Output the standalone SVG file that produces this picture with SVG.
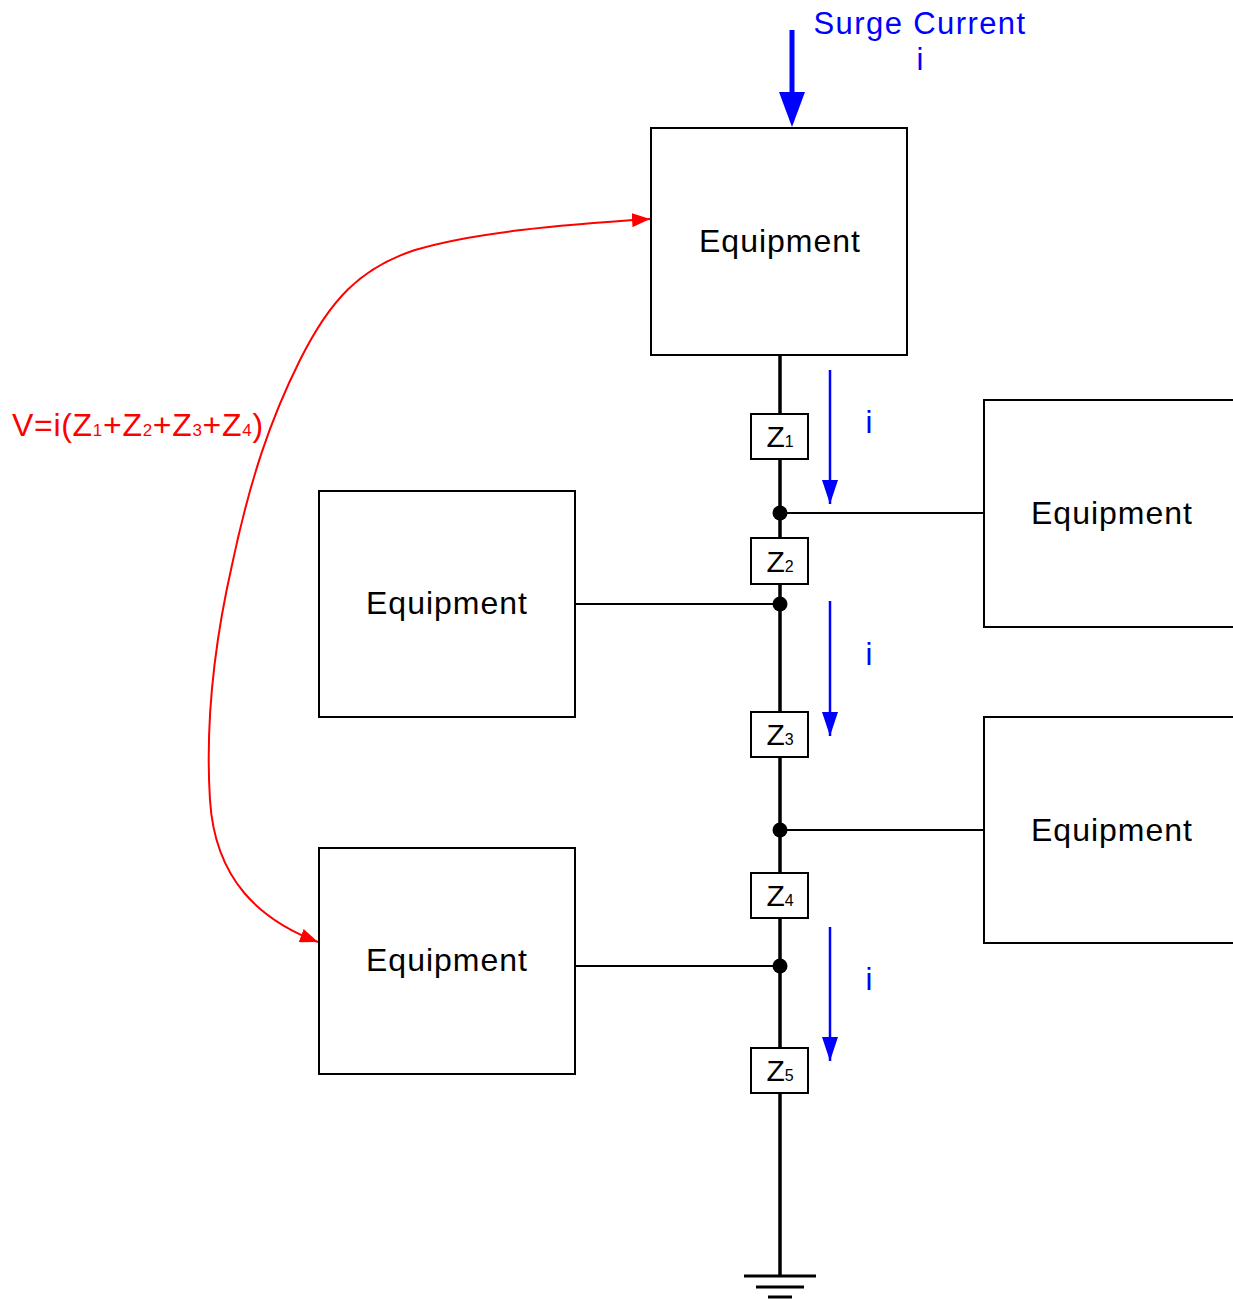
<svg xmlns="http://www.w3.org/2000/svg" width="1233" height="1299" viewBox="0 0 1233 1299">
<style>
.box{fill:#fff;stroke:#000;stroke-width:2}
.eq{font-family:"Liberation Sans",Arial,sans-serif;font-size:32px;letter-spacing:1px;fill:#000;text-anchor:middle}
.z{font-family:"Liberation Sans",Arial,sans-serif;font-size:30px;fill:#000;text-anchor:middle}
.sub{font-size:16px}
.bl{font-family:"Liberation Sans",Arial,sans-serif;font-size:31px;fill:#0000ff;text-anchor:middle}
.wire{stroke:#000;stroke-width:2;fill:none}
.bus{stroke:#000;stroke-width:3.5;fill:none}
.cur{stroke:#0000ff;stroke-width:2.5;fill:none}
</style>
<defs>
<marker id="ba" markerUnits="userSpaceOnUse" markerWidth="24" markerHeight="16" refX="24" refY="8" viewBox="0 0 24 16" orient="auto">
<path d="M0,0 L24,8 L0,16 Z" fill="#0000ff"/>
</marker>
<marker id="ra" markerUnits="userSpaceOnUse" markerWidth="18" markerHeight="14" refX="18" refY="7" viewBox="0 0 18 14" orient="auto-start-reverse">
<path d="M0,0 L18,7 L0,14 Z" fill="#ff0000"/>
</marker>
</defs>

<g id="connectors">
<line class="bus" x1="780" y1="355" x2="780" y2="1276"/>
<line class="wire" x1="780" y1="513" x2="984" y2="513"/>
<line class="wire" x1="575" y1="604" x2="780" y2="604"/>
<line class="wire" x1="780" y1="830" x2="984" y2="830"/>
<line class="wire" x1="575" y1="966" x2="780" y2="966"/>
<circle cx="780" cy="513" r="7.5" fill="#000"/>
<circle cx="780" cy="604" r="7.5" fill="#000"/>
<circle cx="780" cy="830" r="7.5" fill="#000"/>
<circle cx="780" cy="966" r="7.5" fill="#000"/>
<line class="cur" x1="830" y1="370" x2="830" y2="504" marker-end="url(#ba)"/>
<line class="cur" x1="830" y1="601" x2="830" y2="736" marker-end="url(#ba)"/>
<line class="cur" x1="830" y1="927" x2="830" y2="1061" marker-end="url(#ba)"/>
<line x1="792" y1="30" x2="792" y2="96" stroke="#0000ff" stroke-width="5"/>
<path d="M779,92 L805,92 L792,127 Z" fill="#0000ff"/>
<path d="M 318,942 C 260,920 215,880 210,800 C 205,720 215,640 232,565 C 250,480 270,420 300,360 C 330,300 360,268 415,250 C 475,232 560,225 650,219" fill="none" stroke="#ff0000" stroke-width="2" marker-start="url(#ra)" marker-end="url(#ra)"/>
</g>

<g id="ground">
<line x1="744" y1="1276" x2="816" y2="1276" stroke="#000" stroke-width="3"/>
<line x1="756" y1="1287" x2="804" y2="1287" stroke="#000" stroke-width="3"/>
<line x1="768" y1="1297" x2="792" y2="1297" stroke="#000" stroke-width="3"/>
</g>

<g id="eq-top"><rect class="box" x="651" y="128" width="256" height="227"/><text class="eq" x="780" y="252">Equipment</text></g>
<g id="eq-right1"><rect class="box" x="984" y="400" width="260" height="227"/><text class="eq" x="1112" y="524">Equipment</text></g>
<g id="eq-left1"><rect class="box" x="319" y="491" width="256" height="226"/><text class="eq" x="447" y="614">Equipment</text></g>
<g id="eq-right2"><rect class="box" x="984" y="717" width="260" height="226"/><text class="eq" x="1112" y="841">Equipment</text></g>
<g id="eq-left2"><rect class="box" x="319" y="848" width="256" height="226"/><text class="eq" x="447" y="971">Equipment</text></g>

<g id="z1"><rect class="box" x="751" y="414" width="57" height="45"/><text class="z" x="780" y="447">Z<tspan class="sub">1</tspan></text></g>
<g id="z2"><rect class="box" x="751" y="538" width="57" height="46"/><text class="z" x="780" y="572">Z<tspan class="sub">2</tspan></text></g>
<g id="z3"><rect class="box" x="751" y="712" width="57" height="45"/><text class="z" x="780" y="745">Z<tspan class="sub">3</tspan></text></g>
<g id="z4"><rect class="box" x="751" y="873" width="57" height="45"/><text class="z" x="780" y="906">Z<tspan class="sub">4</tspan></text></g>
<g id="z5"><rect class="box" x="751" y="1048" width="57" height="45"/><text class="z" x="780" y="1081">Z<tspan class="sub">5</tspan></text></g>

<g id="labels">
<text class="bl" x="920" y="34" letter-spacing="1.4">Surge Current</text>
<text class="bl" x="920" y="70">i</text>
<text class="bl" x="869" y="433">i</text>
<text class="bl" x="869" y="665">i</text>
<text class="bl" x="869" y="990">i</text>
<text x="12" y="436" font-family="'Liberation Sans',Arial,sans-serif" font-size="32" letter-spacing="0.7" fill="#ff0000">V=i(Z<tspan font-size="17">1</tspan>+Z<tspan font-size="17">2</tspan>+Z<tspan font-size="17">3</tspan>+Z<tspan font-size="17">4</tspan>)</text>
</g>
</svg>
